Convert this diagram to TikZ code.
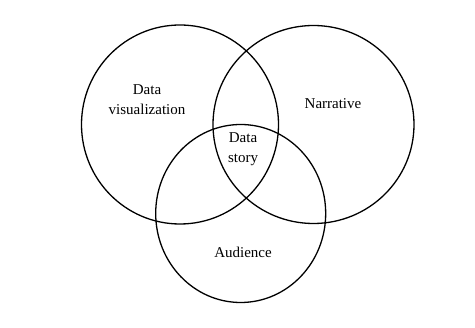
\documentclass[tikz,border=0pt]{standalone}
\usepackage{fontspec}
\setmainfont{Liberation Serif}
\begin{document}
\begin{tikzpicture}[x=1pt,y=-1pt,
  ring/.style={draw=black,line width=1.3pt},
  lbl/.style={align=center,font=\fontsize{15}{20}\selectfont,inner sep=0pt}]
\useasboundingbox (0,0) rectangle (475,328);
% the three overlapping sets
\draw[ring] (180,124.5) ellipse [x radius=98.5,y radius=99.5];
\draw[ring] (313.5,124.5) ellipse [x radius=100.5,y radius=99];
\draw[ring] (240.7,213.5) ellipse [x radius=85,y radius=89];
% set labels
\node[lbl] (viz) at (147,100) {Data\\visualization};
\node[lbl] (narr) at (333,104) {Narrative};
\node[lbl] (story) at (243,149) {Data\\story};
\node[lbl] (aud) at (243,252) {Audience};
\end{tikzpicture}
\end{document}
